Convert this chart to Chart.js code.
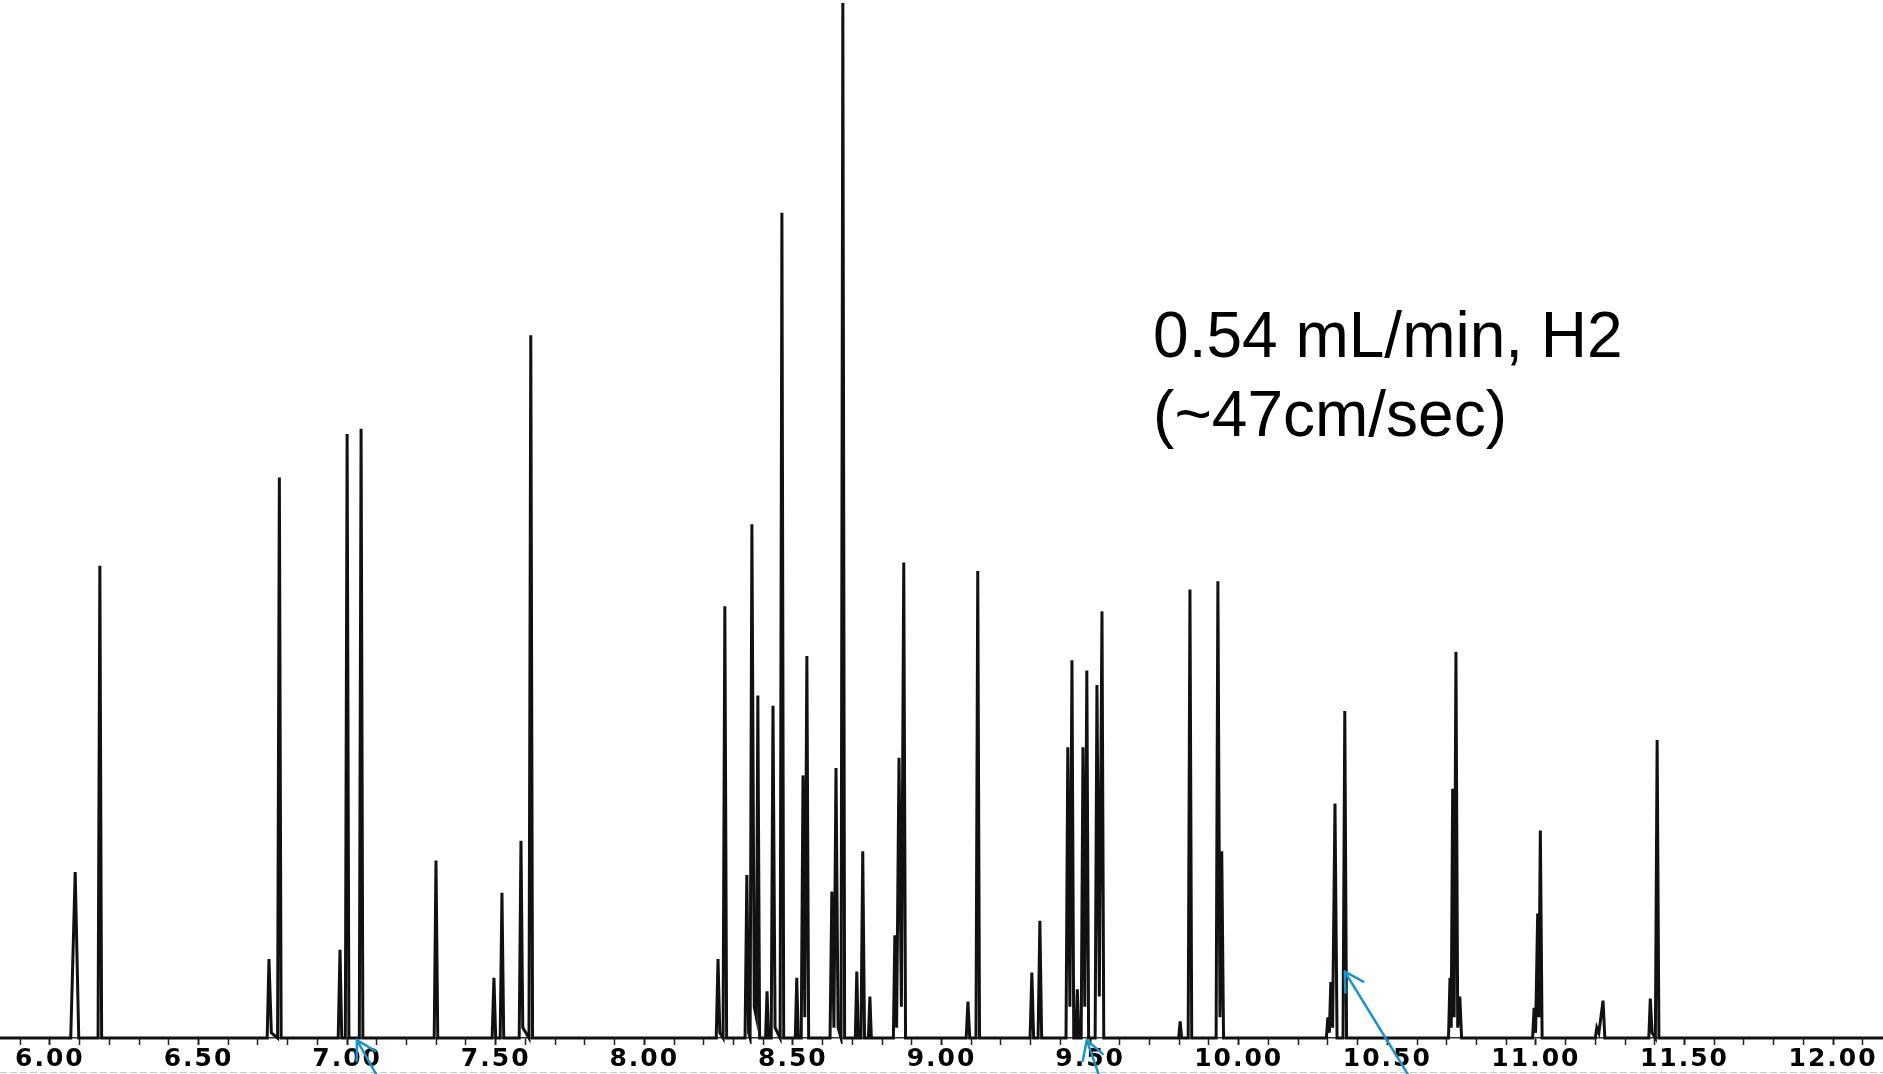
<!DOCTYPE html>
<html>
<head>
<meta charset="utf-8">
<title>Chromatogram 0.54 mL/min H2</title>
<script src="https://cdn.jsdelivr.net/npm/chart.js@4.4.1/dist/chart.umd.min.js"></script>
<style>
  html, body { margin: 0; padding: 0; background: #fff; }
  #wrap { width: 1883px; height: 1074px; position: relative; }
</style>
</head>
<body>
<div id="wrap"><canvas id="gcChart"></canvas></div>
<script>
// retention time (min) and detector signal (% of full scale)
const retentionTime = [
  5.832,
  6.070, 6.085, 6.097,
  6.162, 6.168, 6.174,
  6.731, 6.737, 6.745, 6.766, 6.772, 6.778,
  6.970, 6.976, 6.982, 6.994, 7.000, 7.006,
  7.041, 7.047, 7.053,
  7.293, 7.299, 7.305,
  7.488, 7.494, 7.500, 7.515, 7.521, 7.527,
  7.579, 7.585, 7.591, 7.612, 7.618, 7.624,
  8.242, 8.248, 8.254, 8.265, 8.271, 8.277,
  8.339, 8.345, 8.351, 8.356, 8.362, 8.370, 8.377, 8.382, 8.388,
  8.408, 8.413, 8.418,
  8.427, 8.433, 8.440, 8.457, 8.463, 8.469,
  8.508, 8.513, 8.518,
  8.528, 8.534, 8.540, 8.547, 8.553,
  8.625, 8.631, 8.638, 8.645, 8.652, 8.662, 8.668, 8.674,
  8.710, 8.715, 8.720, 8.729, 8.735, 8.741,
  8.754, 8.759, 8.764,
  8.838, 8.843, 8.849, 8.857, 8.865, 8.873, 8.879,
  9.083, 9.089, 9.095, 9.116, 9.122, 9.128,
  9.298, 9.304, 9.310, 9.325, 9.331, 9.337,
  9.419, 9.425, 9.432, 9.439, 9.445,
  9.452, 9.457, 9.462,
  9.470, 9.476, 9.482, 9.489, 9.495,
  9.517, 9.523, 9.531, 9.540, 9.546,
  9.798, 9.803, 9.808,
  9.830, 9.836, 9.842,
  9.924, 9.930, 9.937, 9.943, 9.949,
  10.295, 10.300, 10.305, 10.310, 10.316, 10.324, 10.331,
  10.351, 10.357, 10.363,
  10.706, 10.711, 10.715, 10.720, 10.725, 10.731, 10.737, 10.744, 10.750,
  10.989, 10.994, 10.999, 11.006, 11.010, 11.015, 11.021,
  11.200, 11.205, 11.212, 11.226, 11.232,
  11.380, 11.385, 11.391, 11.402, 11.408, 11.414,
  12.168
];
const detectorSignal = [
  0,
  0, 16.0, 0,
  0, 45.5, 0,
  0, 7.6, 0.5, 0, 54.0, 0,
  0, 8.5, 0, 0, 58.2, 0,
  0, 58.7, 0,
  0, 17.1, 0,
  0, 5.8, 0, 0, 14.0, 0,
  0, 19.0, 1.0, 0, 67.7, 0,
  0, 7.6, 0.5, 0, 41.6, 0,
  0, 15.7, 0.5, 0, 49.5, 3.0, 2.0, 33.0, 0,
  0, 4.5, 0,
  0, 32.0, 1.0, 0, 79.5, 0,
  0, 5.8, 0,
  0, 25.3, 2.0, 36.8, 0,
  0, 14.1, 1.0, 26.0, 1.0, 0, 99.7, 0,
  0, 6.4, 0, 0, 18.0, 0,
  0, 4.0, 0,
  0, 9.9, 1.0, 27.0, 3.0, 45.8, 0,
  0, 3.5, 0, 0, 45.0, 0,
  0, 6.3, 0, 0, 11.3, 0,
  0, 28.0, 3.0, 36.4, 0,
  0, 4.7, 0,
  0, 28.0, 3.0, 35.4, 0,
  0, 34.0, 4.0, 41.1, 0,
  0, 1.6, 0,
  0, 43.2, 0,
  0, 44.0, 2.0, 18.0, 0,
  0, 2.0, 0.5, 5.4, 1.0, 22.6, 0,
  0, 31.5, 0,
  0, 5.8, 1.0, 24.0, 2.0, 37.2, 1.0, 4.0, 0,
  0, 2.9, 0.5, 12.0, 2.0, 20.0, 0,
  0, 1.0, 0.5, 3.6, 0,
  0, 3.8, 0.5, 0, 28.7, 0,
  0
];
const tickLabels = ['6.00', '6.50', '7.00', '7.50', '8.00', '8.50', '9.00',
  '9.50', '10.00', '10.50', '11.00', '11.50', '12.00'];
const noteLines = ['0.54 mL/min, H2', '(~47cm/sec)'];
// arrows: where each tip points, in time / signal units
const arrowTime = [7.033, 9.489, 10.357];
const arrowSignal = [-0.2, -0.2, 6.4];

const arrowStyle = [
  { dx: 18, dy: 32, len: 48 },
  { dx: 11, dy: 32, len: 44 },
  { dx: 62, dy: 101, len: 130 }
];

// minor ticks every 0.1 min
const minorTicks = [];
for (let i = 59; i <= 121; i++) minorTicks.push(i / 10);

const notesPlugin = {
  id: 'notes',
  beforeDraw(chart) {
    chart.ctx.letterSpacing = '2px'; // wide scanned-looking axis numbers
  },
  afterDraw(chart) {
    const { ctx, scales: { x, y } } = chart;
    ctx.save();
    ctx.letterSpacing = '0px';

    // faint dashed rule at the bottom of the scan
    ctx.strokeStyle = '#c8c8c8';
    ctx.lineWidth = 1;
    ctx.setLineDash([7, 3]);
    ctx.beginPath();
    ctx.moveTo(0, 1072.5);
    ctx.lineTo(chart.width, 1072.5);
    ctx.stroke();
    ctx.setLineDash([]);

    ctx.font = '64px "Liberation Sans", Arial, sans-serif';
    ctx.fillStyle = '#000';
    ctx.textBaseline = 'alphabetic';
    ctx.fillText(noteLines[0], x.getPixelForValue(9.712), y.getPixelForValue(65.6));
    ctx.fillText(noteLines[1], x.getPixelForValue(9.712), y.getPixelForValue(58.0));

    ctx.strokeStyle = '#1695cc';
    ctx.lineWidth = 2.5;
    ctx.lineCap = 'round';
    arrowTime.forEach((t, i) => {
      const px = x.getPixelForValue(t);
      const py = y.getPixelForValue(arrowSignal[i]);
      const st = arrowStyle[i];
      const n = Math.hypot(st.dx, st.dy);
      const ux = st.dx / n, uy = st.dy / n;
      ctx.beginPath();
      ctx.moveTo(px, py);
      ctx.lineTo(px + ux * st.len, py + uy * st.len);
      [Math.PI / 6, -Math.PI / 6].forEach(a => {
        const bx = ux * Math.cos(a) - uy * Math.sin(a);
        const by = ux * Math.sin(a) + uy * Math.cos(a);
        ctx.moveTo(px, py);
        ctx.lineTo(px + bx * 21, py + by * 21);
      });
      ctx.stroke();
    });
    ctx.restore();
  }
};

const ctx = document.getElementById('gcChart').getContext('2d');
const chart = new Chart(ctx, {
  type: 'line',
  data: {
    datasets: [{
      data: retentionTime.map((t, i) => ({ x: t, y: detectorSignal[i] })),
      borderColor: '#111',
      borderWidth: 3,
      pointRadius: 0,
      tension: 0,
      fill: false,
      clip: 6
    }]
  },
  options: {
    responsive: true,
    maintainAspectRatio: false,
    animation: false,
    layout: { padding: 0 },
    plugins: {
      legend: { display: false },
      tooltip: { enabled: false }
    },
    scales: {
      x: {
        type: 'linear',
        min: 5.832,
        max: 12.168,
        afterBuildTicks: (scale) => {
          scale.ticks = minorTicks.map(v => ({ value: v }));
        },
        ticks: {
          autoSkip: false,
          maxRotation: 0,
          minRotation: 0,
          padding: 2,
          color: '#000',
          font: { family: '"DejaVu Sans", sans-serif', size: 25, weight: 'bold', lineHeight: 1 },
          callback: (value) => {
            const lab = tickLabels.find(l => Math.abs(parseFloat(l) - value) < 1e-6);
            return lab || '';
          }
        },
        grid: {
          drawOnChartArea: false,
          tickLength: 7,
          tickColor: '#222',
          tickWidth: (c) => (Math.abs(c.tick.value * 2 - Math.round(c.tick.value * 2)) < 1e-6 ? 2 : 1.5)
        },
        border: { display: true, color: '#333', width: 1.5 }
      },
      y: {
        display: false,
        min: 0,
        max: 100
      }
    }
  },
  plugins: [notesPlugin]
});
</script>
</body>
</html>
